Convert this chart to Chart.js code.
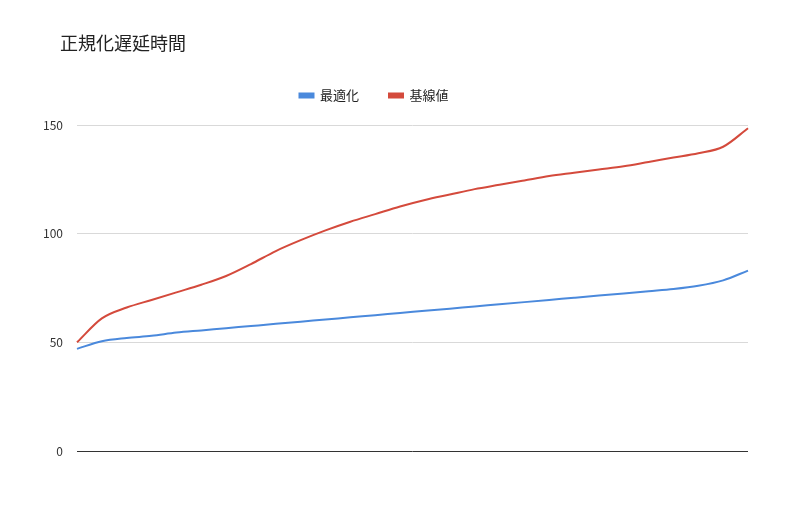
<!DOCTYPE html>
<html>
<head>
<meta charset="utf-8">
<script src="https://cdn.jsdelivr.net/npm/chart.js@4"></script>
<style>
  html, body { margin: 0; padding: 0; background: #fff; }
  #wrap { width: 800px; height: 508px; position: relative; }
  #title { position: absolute; left: 60px; top: 29px; font: 18px 'Noto Sans CJK JP', sans-serif; color: #222; line-height: 26px; }
</style>
</head>
<body>
<div id="wrap"><div id="title">正規化遅延時間</div><canvas id="c"></canvas></div>
<script>
const labels = Array.from({ length: 28 }, (_, i) => String(i + 1));
const optimized = [47, 50.5, 52, 53, 54.5, 55.5, 56.5, 57.5, 58.5, 59.5, 60.5, 61.5, 62.5, 63.5,
    64.5, 65.5, 66.5, 67.5, 68.5, 69.5, 70.5, 71.5, 72.5, 73.5, 74.5, 76, 78.5, 83];
const baseline = [50, 61, 66, 69.5, 73, 76.5, 80.5, 86, 92, 97, 101.5, 105.5, 109, 112.5,
    115.5, 118, 120.5, 122.5, 124.5, 126.5, 128, 129.5, 131, 133, 135, 137, 140, 148.5];
const yTicks = [0, 50, 100, 150];

const font = "'Noto Sans CJK JP', 'Noto Sans', sans-serif";

// extra room under the legend
const legendGap = {
    id: 'legendGap',
    beforeInit(chart) {
        const fit = chart.legend.fit;
        chart.legend.fit = function () { fit.call(this); this.height += 13; };
    }
};

new Chart(document.getElementById('c'), {
    type: 'line',
    data: {
        labels: labels,
        datasets: [
            { label: '最適化', data: optimized, borderColor: '#4a89dc', backgroundColor: '#4a89dc',
              borderWidth: 2, pointRadius: 0, tension: 0.4, cubicInterpolationMode: 'monotone' },
            { label: '基線値', data: baseline, borderColor: '#d44a3c', backgroundColor: '#d44a3c',
              borderWidth: 2, pointRadius: 0, tension: 0.4, cubicInterpolationMode: 'monotone' }
        ]
    },
    options: {
        responsive: true,
        maintainAspectRatio: false,
        animation: false,
        layout: { padding: { left: 0, right: 52, top: 59, bottom: 57 } },
        plugins: {
            legend: {
                labels: { font: { family: font, size: 13 }, color: '#222', boxWidth: 14, boxHeight: 4, padding: 30 }
            },
            tooltip: { enabled: false }
        },
        scales: {
            x: { display: false },
            y: {
                min: 0, max: 150,
                afterFit: s => { s.width = 77; },
                afterBuildTicks: s => { s.ticks = yTicks.map(v => ({ value: v })); },
                border: { display: false },
                grid: { color: ctx => ctx.tick.value === 0 ? '#333' : '#d9d9d9', drawTicks: false },
                ticks: { padding: 14, color: '#333', font: { family: font, size: 12 } }
            }
        }
    },
    plugins: [legendGap]
});
</script>
</body>
</html>
